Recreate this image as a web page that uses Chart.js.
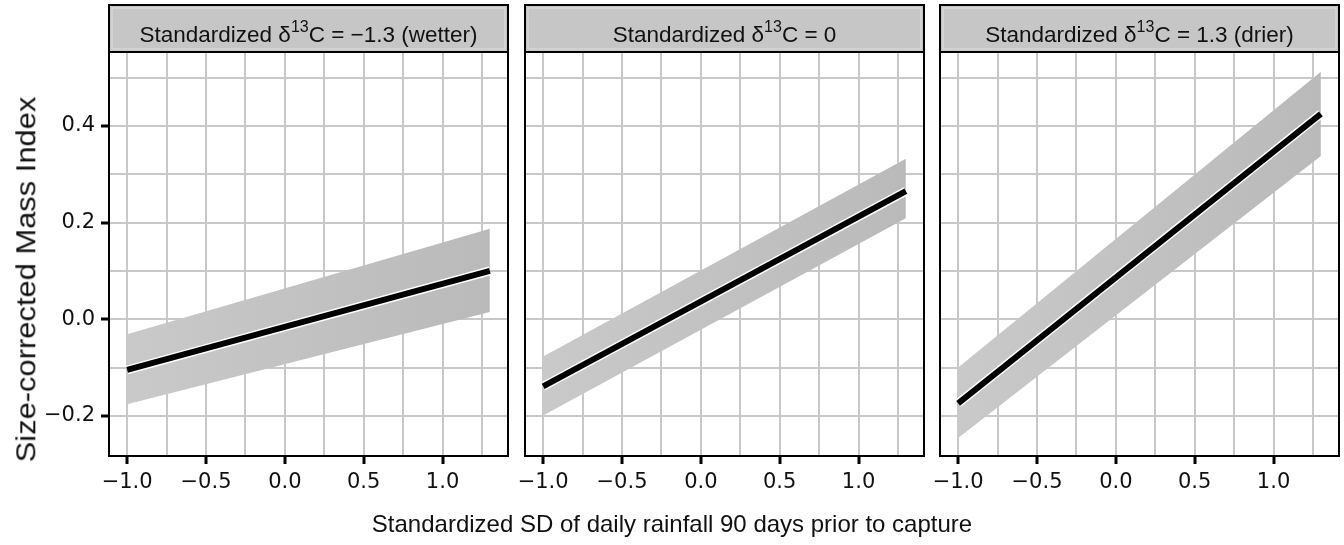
<!DOCTYPE html>
<html lang="en">
<head>
<meta charset="UTF-8">
<title>Size-corrected Mass Index by rainfall SD</title>
<script src="https://cdn.jsdelivr.net/npm/chart.js"></script>
<style>
    body {
        margin: 0;
        background: #fff;
        font-family: "Liberation Sans", Arial, sans-serif;
    }
    #wrap {
        position: relative;
        width: 1344px;
        height: 545px;
        overflow: hidden;
    }
    canvas {
        position: absolute;
        top: 0;
    }
    .ytitle {
        position: absolute;
        left: 27px;
        top: 279px;
        font-size: 27px;
        white-space: nowrap;
        color: #111;
    }
    .xtitle {
        position: absolute;
        left: 672px;
        top: 524px;
        transform: translate(-50%, -50%);
        font-size: 24px;
        white-space: nowrap;
        color: #111;
    }
</style>
</head>
<body>
<div id="wrap">
    <canvas id="p1" width="515" height="545" style="left:0px"></canvas>
    <canvas id="p2" width="415" height="545" style="left:515px"></canvas>
    <canvas id="p3" width="414" height="545" style="left:930px"></canvas>
    <div class="ytitle" id="ytitle">Size-corrected Mass Index</div>
    <div class="xtitle">Standardized SD of daily rainfall 90 days prior to capture</div>
</div>

<script>
// x positions of the fitted line / ribbon ends
const xEnds = [-1, 1.3];

// wetter panel (delta13C = -1.3)
const fitWet = [-0.105, 0.100];
const lowWet = [-0.176, 0.015];
const highWet = [-0.031, 0.187];

// average panel (delta13C = 0)
const fitMid = [-0.139, 0.265];
const lowMid = [-0.199, 0.209];
const highMid = [-0.077, 0.332];

// drier panel (delta13C = 1.3)
const fitDry = [-0.174, 0.425];
const lowDry = [-0.246, 0.338];
const highDry = [-0.100, 0.512];

// strip labels: text before superscript, superscript, text after
const stripWet = ['Standardized δ', '13', 'C = −1.3 (wetter)'];
const stripMid = ['Standardized δ', '13', 'C = 0'];
const stripDry = ['Standardized δ', '13', 'C = 1.3 (drier)'];

// tick values
const xMajor = [-1, -0.5, 0, 0.5, 1];
const xMinor = [-0.75, -0.25, 0.25, 0.75, 1.25];
const yMajor = [-0.2, 0, 0.2, 0.4];
const yMinor = [-0.1, 0.1, 0.3, 0.5];

const xMin = -1.115, xMax = 1.415;
const yMin = -0.283, yMax = 0.553;

const FONT = '"Liberation Sans", Arial, sans-serif';
const TICKFONT = '"DejaVu Sans", sans-serif';
const GRID = '#c8c8c8';
const STRIP_H = 47;

// y title is a bit stretched along its length in the original
(function () {
    const el = document.getElementById('ytitle');
    const w = el.offsetWidth, h = el.offsetHeight;
    const sx = 366 / w;
    el.style.left = (27 - w / 2) + 'px';
    el.style.top = (279 - h / 2) + 'px';
    el.style.transform = 'rotate(-90deg) scaleX(' + sx.toFixed(3) + ')';
})();

function fmt(v) {
    return v.toFixed(1).replace('-', '−');
}

function pts(arr) {
    return xEnds.map((x, k) => ({ x: x, y: arr[k] }));
}

function ribbonFill(c) {
    const a = c.chart.chartArea;
    if (!a) return '#c2c2c2';
    const g = c.chart.ctx.createLinearGradient(a.left, 0, a.right, 0);
    g.addColorStop(0, '#cacaca');
    g.addColorStop(1, '#b9b9b9');
    return g;
}

// draws the grey strip on top and the black frame round the panel
const panelFrame = {
    id: 'panelFrame',
    afterDraw(chart, args, opts) {
        const ctx = chart.ctx;
        const a = chart.chartArea;
        const top = a.top - STRIP_H;
        ctx.save();
        ctx.fillStyle = '#c6c6c6';
        ctx.fillRect(a.left, top, a.right - a.left, STRIP_H);
        ctx.strokeStyle = '#dedede';
        ctx.lineWidth = 1;
        ctx.strokeRect(a.left + 3, top + 3, a.right - a.left - 6, STRIP_H - 6);
        ctx.strokeStyle = '#000';
        ctx.lineWidth = 2;
        ctx.strokeRect(a.left, top, a.right - a.left, a.bottom - top);
        ctx.beginPath();
        ctx.moveTo(a.left, a.top);
        ctx.lineTo(a.right, a.top);
        ctx.stroke();

        const parts = opts.label;
        ctx.font = '22.5px ' + FONT;
        const w1 = ctx.measureText(parts[0]).width;
        const w3 = ctx.measureText(parts[2]).width;
        ctx.font = '16px ' + FONT;
        const w2 = ctx.measureText(parts[1]).width;
        let x = (a.left + a.right) / 2 - (w1 + w2 + w3) / 2;
        const base = top + 37;
        ctx.fillStyle = '#111';
        ctx.textBaseline = 'alphabetic';
        ctx.textAlign = 'left';
        ctx.font = '22.5px ' + FONT;
        ctx.fillText(parts[0], x, base);
        x += w1;
        ctx.font = '16px ' + FONT;
        ctx.fillText(parts[1], x, base - 10);
        x += w2;
        ctx.font = '22.5px ' + FONT;
        ctx.fillText(parts[2], x, base);
        ctx.restore();
    }
};

function makePanel(id, fit, low, high, label, showY, pad) {
    const ctx = document.getElementById(id).getContext('2d');
    return new Chart(ctx, {
        type: 'line',
        data: {
            datasets: [{
                data: pts(fit),
                borderColor: '#000',
                borderWidth: 6,
                pointRadius: 0,
                fill: false,
                order: 0
            }, {
                data: pts(fit),
                borderColor: '#fff',
                borderWidth: 9,
                pointRadius: 0,
                fill: false,
                order: 1
            }, {
                data: pts(high),
                borderWidth: 0,
                borderColor: 'rgba(0,0,0,0)',
                backgroundColor: ribbonFill,
                pointRadius: 0,
                fill: '+1',
                order: 2
            }, {
                data: pts(low),
                borderWidth: 0,
                borderColor: 'rgba(0,0,0,0)',
                pointRadius: 0,
                fill: false,
                order: 3
            }]
        },
        options: {
            responsive: false,
            animation: false,
            layout: { padding: pad },
            plugins: {
                legend: { display: false },
                tooltip: { enabled: false },
                panelFrame: { label: label }
            },
            scales: {
                x: {
                    type: 'linear',
                    min: xMin,
                    max: xMax,
                    afterBuildTicks: s => {
                        s.ticks = xMajor.concat(xMinor).sort((p, q) => p - q).map(v => ({ value: v }));
                    },
                    afterFit: s => {
                        s.height = 40;
                        // labels may spill past the panel edge, keep the panel where it is
                        s.paddingLeft = 0;
                        s.paddingRight = 0;
                    },
                    border: { display: false },
                    grid: {
                        color: GRID,
                        lineWidth: 2,
                        tickLength: 8,
                        tickWidth: 3,
                        tickColor: c => xMajor.includes(c.tick.value) ? '#000' : 'rgba(0,0,0,0)'
                    },
                    ticks: {
                        autoSkip: false,
                        maxRotation: 0,
                        padding: 6,
                        color: '#111',
                        font: { family: TICKFONT, size: 21 },
                        callback: v => xMajor.includes(v) ? fmt(v) : ''
                    }
                },
                y: {
                    type: 'linear',
                    min: yMin,
                    max: yMax,
                    afterBuildTicks: s => {
                        s.ticks = yMajor.concat(yMinor).sort((p, q) => p - q).map(v => ({ value: v }));
                    },
                    afterFit: s => {
                        s.width = showY ? 109 : 0;
                        s.paddingTop = 0;
                        s.paddingBottom = 0;
                    },
                    border: { display: false },
                    grid: {
                        color: GRID,
                        lineWidth: 2,
                        drawTicks: showY,
                        tickLength: 8,
                        tickWidth: 3,
                        tickColor: c => yMajor.includes(c.tick.value) ? '#000' : 'rgba(0,0,0,0)'
                    },
                    ticks: {
                        display: showY,
                        autoSkip: false,
                        padding: 6,
                        color: '#111',
                        font: { family: TICKFONT, size: 21 },
                        callback: v => yMajor.includes(v) ? fmt(v) : ''
                    }
                }
            }
        },
        plugins: [panelFrame]
    });
}

makePanel('p1', fitWet, lowWet, highWet, stripWet, true, { left: 0, right: 7, top: 52, bottom: 49 });
makePanel('p2', fitMid, lowMid, highMid, stripMid, false, { left: 10, right: 6, top: 52, bottom: 49 });
makePanel('p3', fitDry, lowDry, highDry, stripDry, false, { left: 10, right: 5, top: 52, bottom: 49 });
</script>
</body>
</html>
